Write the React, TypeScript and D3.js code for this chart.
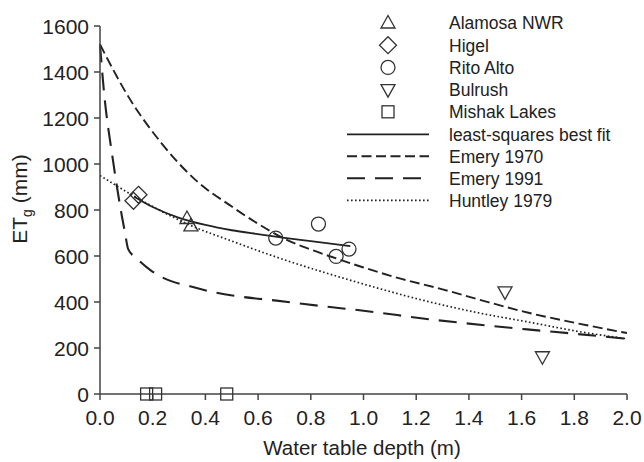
import React from "react";
import * as d3 from "d3";

// ---------- data ----------
const xTicks = [0, 0.2, 0.4, 0.6, 0.8, 1.0, 1.2, 1.4, 1.6, 1.8, 2.0];
const yTicks = [0, 200, 400, 600, 800, 1000, 1200, 1400, 1600];

const alamosa: [number, number][] = [[0.33, 763], [0.345, 731]];
const higel: [number, number][] = [[0.146, 866], [0.127, 840]];
const ritoAlto: [number, number][] = [[0.667, 678], [0.829, 739], [0.896, 598], [0.945, 630]];
const bulrush: [number, number][] = [[1.537, 444], [1.679, 162]];
const mishak: [number, number][] = [[0.177, 0], [0.211, 0], [0.481, 0]];

const fitLine: [number, number][] = [
  [0.13, 858], [0.2, 813], [0.3, 766], [0.4, 735], [0.5, 712], [0.6, 695],
  [0.7, 679], [0.8, 665], [0.95, 643],
];
const emery1970: [number, number][] = [
  [0, 1520], [0.107, 1294], [0.233, 1091], [0.361, 932], [0.5, 815], [0.6, 740],
  [0.7, 675], [0.8, 628], [0.9, 588], [1.0, 550], [1.13, 505], [1.3, 455],
  [1.44, 410], [1.63, 352], [1.8, 310], [2.0, 265],
];
const emery1991: [number, number][] = [
  [0, 1520], [0.013, 1340], [0.05, 1010], [0.082, 780], [0.095, 700], [0.107, 630],
  [0.139, 590], [0.19, 540], [0.24, 505], [0.342, 468], [0.443, 440], [0.53, 424],
  [0.67, 406], [0.873, 378], [1.0, 362], [1.25, 325], [1.45, 300], [1.63, 280],
  [1.8, 262], [2.0, 240],
];
const huntley1979: [number, number][] = [
  [0, 950], [0.1, 880], [0.2, 815], [0.34, 735], [0.5, 665], [0.67, 595],
  [0.87, 522], [1.0, 478], [1.2, 415], [1.44, 352], [1.63, 312], [1.8, 275], [2.0, 240],
];

const markerLegend = ["Alamosa NWR", "Higel", "Rito Alto", "Bulrush", "Mishak Lakes"];
const lineLegend = ["least-squares best fit", "Emery 1970", "Emery 1991", "Huntley 1979"];

// ---------- layout ----------
const W = 644, H = 462;
const X0 = 100, X1 = 627, Y0 = 394, Y1 = 26;
const INK = "#222";
const FONT = "'Liberation Sans', Arial, Helvetica, sans-serif";

const x = d3.scaleLinear().domain([0, 2]).range([X0, X1]);
const y = d3.scaleLinear().domain([0, 1600]).range([Y0, Y1]);
const line = d3.line<[number, number]>().x(d => x(d[0])).y(d => y(d[1])).curve(d3.curveMonotoneX);

type Shape = "tri" | "dia" | "circ" | "tridown" | "sq";

function Marker({ shape, cx, cy }: { shape: Shape; cx: number; cy: number }) {
  const common = { fill: "none", stroke: "#333", strokeWidth: 1.3 };
  if (shape === "circ") return <circle cx={cx} cy={cy} r={7} {...common} />;
  if (shape === "sq") return <rect x={cx - 6} y={cy - 6} width={12} height={12} {...common} />;
  if (shape === "dia")
    return <path d={`M${cx},${cy - 8.5}L${cx + 8.5},${cy}L${cx},${cy + 8.5}L${cx - 8.5},${cy}Z`} {...common} />;
  if (shape === "tri")
    return <path d={`M${cx},${cy - 7.5}L${cx + 7},${cy + 5}L${cx - 7},${cy + 5}Z`} {...common} />;
  return <path d={`M${cx},${cy + 7.5}L${cx + 7},${cy - 5}L${cx - 7},${cy - 5}Z`} {...common} />;
}

const lineStyles = [
  { dash: undefined as string | undefined, w: 1.8 },
  { dash: "10,4.5", w: 1.9 },
  { dash: "18,10", w: 2.1 },
  { dash: "1.6,2.4", w: 1.7 },
];

export default function App() {
  const series: { pts: [number, number][]; shape: Shape }[] = [
    { pts: alamosa, shape: "tri" },
    { pts: higel, shape: "dia" },
    { pts: ritoAlto, shape: "circ" },
    { pts: bulrush, shape: "tridown" },
    { pts: mishak, shape: "sq" },
  ];
  const lines = [fitLine, emery1970, emery1991, huntley1979];
  const shapes: Shape[] = ["tri", "dia", "circ", "tridown", "sq"];

  return (
    <svg width={W} height={H} style={{ position: "absolute", left: 0, top: 0, background: "#fff" }} fontFamily={FONT}>
      {/* curves */}
      {lines.map((pts, i) => (
        <path key={i} d={line(pts) || ""} fill="none" stroke={INK} strokeWidth={lineStyles[i].w}
          strokeDasharray={lineStyles[i].dash} />
      ))}

      {/* axes */}
      <line x1={X0} x2={X0} y1={Y1} y2={Y0} stroke="#444" strokeWidth={1.5} />
      <line x1={X0} x2={X1} y1={Y0} y2={Y0} stroke="#444" strokeWidth={1.5} />
      {yTicks.map(t => (
        <g key={t}>
          <line x1={X0 - 6} x2={X0} y1={y(t)} y2={y(t)} stroke="#444" strokeWidth={1.5} />
          <text x={X0 - 11} y={y(t) + 7.5} textAnchor="end" fontSize={21} fill={INK}>{t}</text>
        </g>
      ))}
      {xTicks.map(t => (
        <g key={t}>
          <line x1={x(t)} x2={x(t)} y1={Y0} y2={Y0 + 6} stroke="#444" strokeWidth={1.5} />
          <text x={x(t)} y={425} textAnchor="middle" fontSize={21} fill={INK}>{t.toFixed(1)}</text>
        </g>
      ))}

      {/* markers */}
      {series.map((s, i) =>
        s.pts.map((p, j) => <Marker key={`${i}-${j}`} shape={s.shape} cx={x(p[0])} cy={y(p[1])} />)
      )}

      {/* axis titles */}
      <text x={362} y={455} textAnchor="middle" fontSize={20.5} fill={INK}>Water table depth (m)</text>
      <text transform="translate(27,199) rotate(-90)" textAnchor="middle" fontSize={21} fill={INK}>
        ET<tspan fontSize={14} dy={5}>g</tspan><tspan dy={-5}> (mm)</tspan>
      </text>

      {/* legend */}
      {markerLegend.map((name, i) => {
        const cy = 23 + i * 22.2;
        return (
          <g key={name}>
            <Marker shape={shapes[i]} cx={388} cy={cy} />
            <text x={449} y={cy + 6.3} fontSize={17.5} fill={INK}>{name}</text>
          </g>
        );
      })}
      {lineLegend.map((name, i) => {
        const cy = 134.3 + i * 22;
        return (
          <g key={name}>
            <line x1={347} x2={i === 2 ? 421 : 429} y1={cy} y2={cy} stroke={INK}
              strokeWidth={lineStyles[i].w} strokeDasharray={lineStyles[i].dash} />
            <text x={449} y={cy + 6.3} fontSize={17.5} fill={INK}>{name}</text>
          </g>
        );
      })}
    </svg>
  );
}
